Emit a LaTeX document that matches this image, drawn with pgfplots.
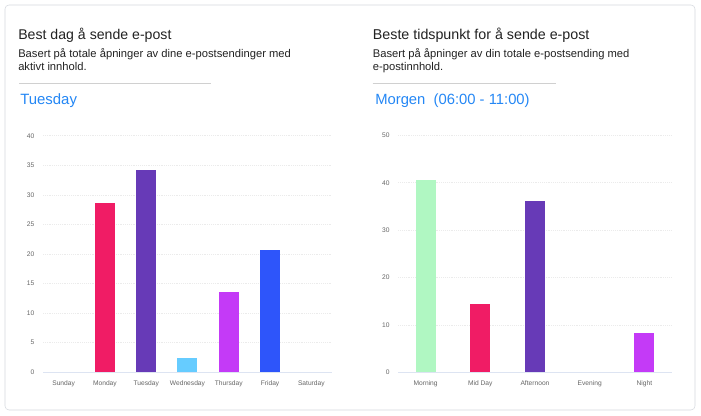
\documentclass[border=0pt]{standalone}
\usepackage{pgfplots}
\pgfplotsset{compat=1.18}
\usepackage{fontspec}
\setmainfont{Liberation Sans}
\definecolor{cpink}{HTML}{F01C65}
\definecolor{cpurple}{HTML}{673AB7}
\definecolor{clblue}{HTML}{66CCFF}
\definecolor{cmagenta}{HTML}{C43AF7}
\definecolor{cblue}{HTML}{2E55FA}
\definecolor{cgreen}{HTML}{B0F7C2}
\definecolor{titleblue}{HTML}{2487F5}
\definecolor{cardgray}{HTML}{D5D9DF}
\definecolor{rulegray}{HTML}{D0D0D0}
\definecolor{axisblue}{HTML}{DDE4F2}
\definecolor{tickgray}{HTML}{666666}
\definecolor{textdark}{HTML}{222222}
\pgfplotsset{
  mybars/.style={
    scale only axis,
    anchor=south west,
    ymin=0,
    axis line style={draw=none},
    tick style={draw=none},
    ymajorgrids,
    grid style={densely dotted, black!8},
    /pgf/number format/assume math mode=true,
    tick label style={font=\fontsize{5}{6}\selectfont, text=tickgray},
    yticklabel style={xshift=-3pt},
    xticklabel style={yshift=-2.5pt},
    clip=false,
  },
  bb/.style={ybar, bar width=15pt, draw=none, fill=#1},
}
\begin{document}
\begin{tikzpicture}
\fill[white] (0,0) rectangle (525.75pt,312pt);
\draw[cardgray, rounded corners=3pt] (3.75pt,4.5pt) rectangle (521.25pt,308.25pt);
% left texts
\node[anchor=base west, inner sep=0pt, text=textdark, font=\fontsize{10.6}{12}\selectfont] at (13.5pt,282pt) {Best dag å sende e-post};
\node[anchor=base west, inner sep=0pt, text=textdark, font=\fontsize{8.4}{9}\selectfont] at (13.5pt,268.9pt) {Basert på totale åpninger av dine e-postsendinger med};
\node[anchor=base west, inner sep=0pt, text=textdark, font=\fontsize{8.4}{9}\selectfont] at (13.5pt,259.1pt) {aktivt innhold.};
\draw[rulegray, line width=0.6pt] (14.25pt,249.5pt) -- (158.25pt,249.5pt);
\node[anchor=base west, inner sep=0pt, text=titleblue, font=\fontsize{11.2}{13}\selectfont] at (15pt,233.7pt) {Tuesday};
% right texts
\node[anchor=base west, inner sep=0pt, text=textdark, font=\fontsize{10.7}{12}\selectfont] at (279.5pt,282pt) {Beste tidspunkt for å sende e-post};
\node[anchor=base west, inner sep=0pt, text=textdark, font=\fontsize{8.4}{9}\selectfont] at (279.5pt,268.9pt) {Basert på åpninger av din totale e-postsending med};
\node[anchor=base west, inner sep=0pt, text=textdark, font=\fontsize{8.4}{9}\selectfont] at (279.5pt,259.1pt) {e-postinnhold.};
\draw[rulegray, line width=0.6pt] (279.5pt,249.5pt) -- (417pt,249.5pt);
\node[anchor=base west, inner sep=0pt, text=titleblue, font=\fontsize{11.1}{13}\selectfont] at (281.25pt,233.7pt) {Morgen\ \ (06:00 - 11:00)};

\begin{axis}[mybars,
  at={(32.25pt,32.8pt)}, width=216.75pt, height=177.4pt,
  xmin=-0.5, xmax=6.5, ymax=40, ytick={0,5,...,40},
  xtick={0,1,2,3,4,5,6},
  xticklabels={Sunday,Monday,Tuesday,Wednesday,Thursday,Friday,Saturday}]
\addplot[bb=cpink] coordinates {(0,0)};
\addplot[bb=cpink] coordinates {(1,28.7)};
\addplot[bb=cpurple] coordinates {(2,34.25)};
\addplot[bb=clblue] coordinates {(3,2.4)};
\addplot[bb=cmagenta] coordinates {(4,13.6)};
\addplot[bb=cblue] coordinates {(5,20.7)};
\addplot[bb=cblue] coordinates {(6,0)};
\draw[axisblue, line width=0.6pt] (axis cs:-0.5,0) -- (axis cs:6.5,0);
\end{axis}

\begin{axis}[mybars,
  at={(298.7pt,32.8pt)}, width=205.1pt, height=177.7pt,
  xmin=-0.5, xmax=4.5, ymax=50, ytick={0,10,...,50},
  xtick={0,1,2,3,4},
  xticklabels={Morning,Mid Day,Afternoon,Evening,Night}]
\addplot[bb=cgreen] coordinates {(0,40.6)};
\addplot[bb=cpink] coordinates {(1,14.4)};
\addplot[bb=cpurple] coordinates {(2,36.1)};
\addplot[bb=cpurple] coordinates {(3,0)};
\addplot[bb=cmagenta] coordinates {(4,8.3)};
\draw[axisblue, line width=0.6pt] (axis cs:-0.5,0) -- (axis cs:4.5,0);
\end{axis}
\end{tikzpicture}
\end{document}
